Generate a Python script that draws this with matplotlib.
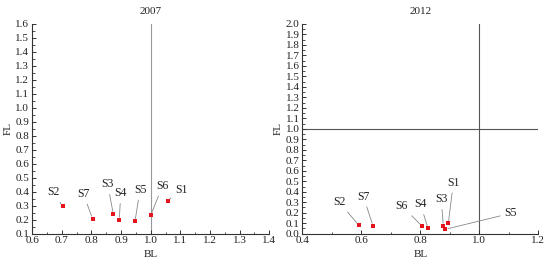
import matplotlib
matplotlib.use("Agg")
import matplotlib.pyplot as plt
from matplotlib.ticker import MultipleLocator, FormatStrFormatter

plt.rcParams['font.family'] = ['Liberation Serif', 'DejaVu Serif']

labels = ["S1", "S2", "S3", "S4", "S5", "S6", "S7"]

bl_2007 = [1.057, 0.703, 0.874, 0.894, 0.947, 1.000, 0.804]
fl_2007 = [0.336, 0.296, 0.239, 0.198, 0.189, 0.232, 0.207]

bl_2012 = [0.895, 0.591, 0.878, 0.826, 0.885, 0.806, 0.640]
fl_2012 = [0.099, 0.083, 0.073, 0.051, 0.042, 0.073, 0.073]

# label text positions (layout)
lab_2007 = [(1.102, 0.413), (0.672, 0.396), (0.855, 0.453), (0.899, 0.389),
            (0.964, 0.413), (1.040, 0.441), (0.773, 0.384)]
lab_2012 = [(0.912, 0.486), (0.525, 0.300), (0.871, 0.328), (0.801, 0.280),
            (1.106, 0.194), (0.737, 0.264), (0.607, 0.353)]

fig = plt.figure(figsize=(5.5, 2.64), dpi=100)
ax1 = fig.add_axes([32.1/550, 1-233.7/264, (269.3-32.1)/550, (233.7-24)/264])
ax2 = fig.add_axes([302.3/550, 1-233.7/264, (538.3-302.3)/550, (233.7-24)/264])

fs = 8
lfs = 8.5

def style(ax, xlim, ylim, xmaj, xmin, ymaj, ymin, title):
    ax.set_xlim(*xlim)
    ax.set_ylim(*ylim)
    ax.spines['top'].set_visible(False)
    ax.spines['right'].set_visible(False)
    for s in ('left', 'bottom'):
        ax.spines[s].set_linewidth(0.8)
        ax.spines[s].set_color('#333333')
    ax.xaxis.set_major_locator(MultipleLocator(xmaj))
    ax.xaxis.set_minor_locator(MultipleLocator(xmin))
    ax.yaxis.set_major_locator(MultipleLocator(ymaj))
    ax.yaxis.set_minor_locator(MultipleLocator(ymin))
    ax.xaxis.set_major_formatter(FormatStrFormatter('%.1f'))
    ax.yaxis.set_major_formatter(FormatStrFormatter('%.1f'))
    ax.tick_params(which='major', direction='in', length=3, width=0.7,
                   labelsize=fs, pad=2, colors='#333333', labelcolor='#222222')
    ax.tick_params(which='minor', direction='in', length=1.8, width=0.6, colors='#333333')
    ax.set_xlabel('BL', fontsize=fs, labelpad=3, color='#222222')
    ax.set_ylabel('FL', fontsize=fs, labelpad=2, color='#222222')
    ax.set_title(title, fontsize=fs, pad=7, color='#222222')

style(ax1, (0.6, 1.4), (0.1, 1.6), 0.1, 0.05, 0.1, 0.05, '2007')
style(ax2, (0.4, 1.2), (0.0, 2.0), 0.2, 0.1, 0.1, 0.05, '2012')

ax1.axvline(1.0, color='#999999', lw=0.8, zorder=1)
ax2.axvline(1.0, color='#555555', lw=0.8, zorder=1)
ax2.axhline(1.0, color='#555555', lw=0.8, zorder=1)

for ax, xs, ys, labs in ((ax1, bl_2007, fl_2007, lab_2007),
                         (ax2, bl_2012, fl_2012, lab_2012)):
    ax.scatter(xs, ys, marker='s', s=10, color='#e3141b', zorder=4, linewidths=0)
    for name, x, y, (tx, ty) in zip(labels, xs, ys, labs):
        ax.annotate(name, xy=(x, y), xytext=(tx, ty), fontsize=lfs,
                    ha='center', va='center', color='#222222',
                    arrowprops=dict(arrowstyle='-', color='#888888', lw=0.6,
                                    shrinkA=1, shrinkB=2), zorder=3)

fig.savefig('out.png', dpi=100)
